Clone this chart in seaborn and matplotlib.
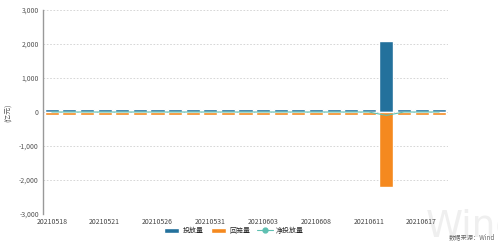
import matplotlib
matplotlib.use("Agg")
import matplotlib.pyplot as plt
import seaborn as sns
import pandas as pd
from matplotlib.lines import Line2D
from matplotlib.patches import Patch

dates = ["20210518","20210519","20210520","20210521","20210524","20210525","20210526",
         "20210527","20210528","20210531","20210601","20210602","20210603","20210604",
         "20210607","20210608","20210609","20210610","20210611","20210615","20210616",
         "20210617","20210618"]
inject = [100]*19 + [2100, 100, 100, 100]
withdraw = [-100]*19 + [-2200, -100, -100, -100]
net = [i + w for i, w in zip(inject, withdraw)]
tick_labels = ["20210518","20210521","20210526","20210531","20210603","20210608","20210611","20210617"]
yticks = [-3000, -2000, -1000, 0, 1000, 2000, 3000]

sns.set_theme(style="white")
plt.rcParams['font.family'] = ['Noto Sans CJK SC', 'DejaVu Sans']
plt.rcParams['axes.unicode_minus'] = False

df = pd.DataFrame({"date": dates, "inject": inject, "withdraw": withdraw, "net": net})
df["idx"] = range(len(df))

blue = "#23719c"
orange = "#f5891f"
teal = "#5fc0b2"

fig = plt.figure(figsize=(4.98, 2.43), dpi=100)

fig.text(426/498, 1-208/243, "Wind", fontsize=27, color="#efefef", ha="left", va="top",
         family="DejaVu Sans Condensed", zorder=-1)

ax = fig.add_axes([43/498, 1-214/243, (448-43)/498, (214-10)/243])
ax.patch.set_alpha(0)

sns.barplot(data=df, x="date", y="inject", color=blue, width=0.8, ax=ax, saturation=1)
sns.barplot(data=df, x="date", y="withdraw", color=orange, width=0.8, ax=ax, saturation=1)
ax.plot(df["idx"], df["net"], color=teal, lw=0.8, zorder=5)

ax.set_ylim(-3000, 3000)
ax.set_xlim(-0.5, len(dates) - 0.5)
ax.set_yticks(yticks)
ax.set_yticklabels([f"{v:,}" for v in yticks], fontsize=5, color="#555555")
tick_pos = [dates.index(t) for t in tick_labels]
ax.set_xticks(tick_pos)
ax.set_xticklabels(tick_labels, fontsize=5, color="#444444")
ax.set_xlabel("")
ax.set_ylabel("")
fig.text(9/498, 1-113/243, "(亿元)", fontsize=5, color="#555555", rotation=90,
         ha="center", va="center")

for v in yticks:
    ax.axhline(v, color="#d0d0d0", lw=0.6, ls=(0, (2, 2)), zorder=0)

for s in ["top", "right", "bottom"]:
    ax.spines[s].set_visible(False)
ax.spines["left"].set_color("#999999")
ax.spines["left"].set_linewidth(1.0)
ax.tick_params(axis="y", length=2, width=0.6, color="#999999", pad=1)
ax.tick_params(axis="x", length=0, pad=3)

handles = [Patch(facecolor=blue, label="投放量"),
           Patch(facecolor=orange, label="回笼量"),
           Line2D([0], [0], color=teal, marker="o", markersize=3.5, lw=0.8, label="净投放量")]
fig.legend(handles=handles, loc="center", bbox_to_anchor=(234/498, 1-231/243), ncol=3,
           frameon=False, fontsize=5, handlelength=2.2, handleheight=0.9, columnspacing=1.0,
           handletextpad=0.5)

fig.text(495/498, 1-237/243, "数据来源：Wind", fontsize=4.5, color="#666666", ha="right", va="center")

fig.savefig("out.png", dpi=100)
